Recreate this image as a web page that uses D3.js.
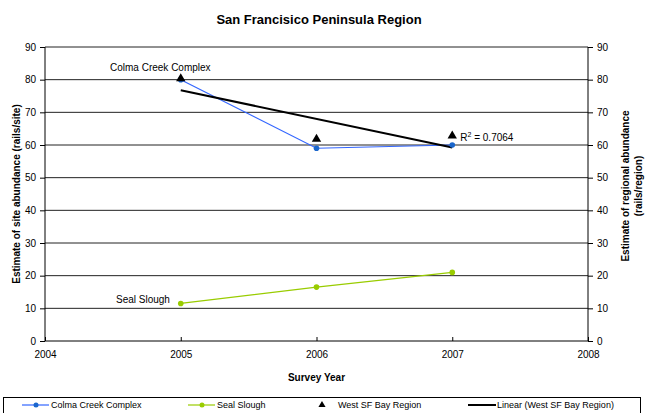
<!DOCTYPE html>
<html>
<head>
<meta charset="utf-8">
<script src="https://cdn.jsdelivr.net/npm/d3@7/dist/d3.min.js"></script>
<style>
  body { margin: 0; background: #fff; }
  svg { display: block; font-family: "Liberation Sans", Arial, sans-serif; }
</style>
</head>
<body>
<svg id="chart" width="670" height="413"></svg>
<script>
// Survey years and abundance estimates
const years = [2005, 2006, 2007];
const colmaCreek = [80, 59, 60];
const sealSlough = [11.5, 16.5, 21];
const westSFBay = [80, 61.5, 62.5];
const yTicks = [0, 10, 20, 30, 40, 50, 60, 70, 80, 90];
const xTicks = [2004, 2005, 2006, 2007, 2008];
const r2Label = "0.7064";

const svg = d3.select("#chart");
const plotLeft = 45, plotRight = 588, plotTop = 47, plotBottom = 341;

const x = d3.scaleLinear().domain([2004, 2008]).range([plotLeft, plotRight]);
const y = d3.scaleLinear().domain([0, 90]).range([plotBottom, plotTop]);

// Title
svg.append("text").attr("x", 319).attr("y", 24).attr("text-anchor", "middle")
  .attr("font-size", 13).attr("font-weight", "bold").text("San Francisico Peninsula Region");

// Horizontal gridlines
svg.append("g").selectAll("line").data(yTicks.filter(d => d > 0)).join("line")
  .attr("x1", plotLeft).attr("x2", plotRight)
  .attr("y1", d => y(d)).attr("y2", d => y(d))
  .attr("stroke", "#222").attr("stroke-width", 1);

// Axes
const yLeft = svg.append("g").attr("transform", `translate(${plotLeft},0)`)
  .call(d3.axisLeft(y).tickValues(yTicks).tickSize(5).tickPadding(4).tickFormat(d3.format("d")));
const yRight = svg.append("g").attr("transform", `translate(${plotRight},0)`)
  .call(d3.axisRight(y).tickValues(yTicks).tickSize(5).tickPadding(4).tickFormat(d3.format("d")));
const xAxis = svg.append("g").attr("transform", `translate(0,${plotBottom})`)
  .call(d3.axisBottom(x).tickValues(xTicks).tickSize(-4).tickPadding(8).tickFormat(d3.format("d")));
[yLeft, yRight, xAxis].forEach(g => {
  g.select(".domain").remove();
  g.selectAll("line").attr("stroke", "#000");
  g.selectAll("text").attr("font-size", 10).attr("fill", "#000");
});
xAxis.selectAll("text").attr("dy", "0.9em");
// Axis lines
svg.append("line").attr("x1", plotLeft).attr("x2", plotLeft).attr("y1", plotTop).attr("y2", plotBottom).attr("stroke", "#000");
svg.append("line").attr("x1", plotRight).attr("x2", plotRight).attr("y1", plotTop).attr("y2", plotBottom).attr("stroke", "#000");
svg.append("line").attr("x1", plotLeft).attr("x2", plotRight).attr("y1", plotBottom).attr("y2", plotBottom).attr("stroke", "#000");

// Axis titles
svg.append("text").attr("transform", `translate(20,${(plotTop + plotBottom) / 2}) rotate(-90)`)
  .attr("text-anchor", "middle").attr("font-size", 10).attr("font-weight", "bold")
  .text("Estimate of site abundance (rails/site)");
svg.append("text").attr("transform", `translate(629,186) rotate(-90)`)
  .attr("text-anchor", "middle").attr("font-size", 10).attr("font-weight", "bold")
  .text("Estimate of regional abundance");
svg.append("text").attr("transform", `translate(642,186) rotate(-90)`)
  .attr("text-anchor", "middle").attr("font-size", 10).attr("font-weight", "bold")
  .text("(rails/region)");
svg.append("text").attr("x", (plotLeft + plotRight) / 2).attr("y", 381).attr("text-anchor", "middle")
  .attr("font-size", 10).attr("font-weight", "bold").text("Survey Year");

// Linear trend of the regional estimate
const n = years.length;
const mx = d3.mean(years), my = d3.mean(westSFBay);
const slope = d3.sum(years, (d, i) => (d - mx) * (westSFBay[i] - my)) / d3.sum(years, d => (d - mx) ** 2);
const intercept = my - slope * mx;
const trend = years.map(d => [d, intercept + slope * d]);

const line = d3.line().x(d => x(d[0])).y(d => y(d[1]));

// Series lines
const series = [
  { values: colmaCreek, color: "#3366ff", point: "#1a66cc" },
  { values: sealSlough, color: "#99cc00", point: "#99cc00" }
];
series.forEach(s => {
  const pts = years.map((d, i) => [d, s.values[i]]);
  svg.append("path").datum(pts).attr("d", line).attr("fill", "none")
    .attr("stroke", s.color).attr("stroke-width", 1.2);
});

// Trend line
svg.append("path").datum([trend[0], trend[n - 1]]).attr("d", line).attr("fill", "none")
  .attr("stroke", "#000").attr("stroke-width", 2);

// Series points
series.forEach(s => {
  svg.append("g").selectAll("circle").data(years).join("circle")
    .attr("cx", d => x(d)).attr("cy", (d, i) => y(s.values[i])).attr("r", 2.8)
    .attr("fill", s.point);
});

// Regional triangles
const tri = d3.symbol().type(d3.symbolTriangle).size(38);
svg.append("g").selectAll("path").data(years).join("path")
  .attr("transform", (d, i) => `translate(${x(d)},${y(westSFBay[i]) - 1})`)
  .attr("d", tri).attr("fill", "#000");

// Annotations
svg.append("text").attr("x", 110).attr("y", 71).attr("font-size", 10).text("Colma Creek Complex");
svg.append("text").attr("x", 116).attr("y", 303).attr("font-size", 10).text("Seal Slough");
const r2 = svg.append("text").attr("x", x(2007) + 8).attr("y", y(westSFBay[2]) + 4).attr("font-size", 10);
r2.append("tspan").text("R");
r2.append("tspan").attr("dy", -4).attr("font-size", 7).text("2");
r2.append("tspan").attr("dy", 4).text(" = " + r2Label);

// Legend
svg.append("rect").attr("x", 3.5).attr("y", 397.5).attr("width", 637).attr("height", 30)
  .attr("fill", "none").attr("stroke", "#000");
const lg = svg.append("g").attr("font-size", 9);
const ly = 405;
[[22, "#3366ff", "#1a66cc", "Colma Creek Complex"], [188, "#99cc00", "#99cc00", "Seal Slough"]].forEach(([lx, c, pc, t]) => {
  lg.append("line").attr("x1", lx).attr("x2", lx + 27).attr("y1", ly).attr("y2", ly).attr("stroke", c).attr("stroke-width", 1.2);
  lg.append("circle").attr("cx", lx + 14).attr("cy", ly).attr("r", 2.5).attr("fill", pc);
  lg.append("text").attr("x", lx + 29).attr("y", ly + 3).text(t);
});
lg.append("path").attr("transform", `translate(322,${ly})`).attr("d", d3.symbol().type(d3.symbolTriangle).size(22)).attr("fill", "#000");
lg.append("text").attr("x", 338).attr("y", ly + 3).text("West SF Bay Region");
lg.append("line").attr("x1", 468).attr("x2", 496).attr("y1", ly).attr("y2", ly).attr("stroke", "#000").attr("stroke-width", 2);
lg.append("text").attr("x", 497).attr("y", ly + 3).text("Linear (West SF Bay Region)");
</script>
</body>
</html>
